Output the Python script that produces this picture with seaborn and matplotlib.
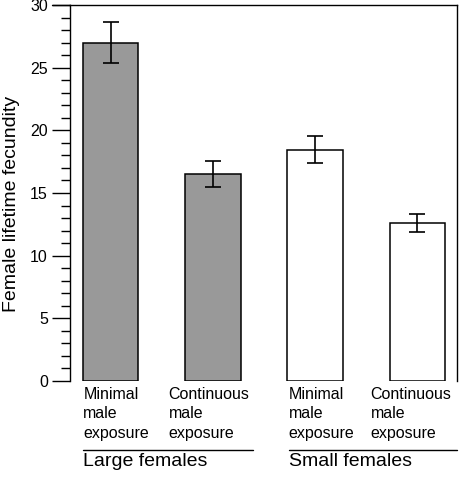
import numpy as np
import pandas as pd
import matplotlib
matplotlib.use("Agg")
import matplotlib.pyplot as plt
import matplotlib.transforms as mtransforms
from matplotlib.ticker import MultipleLocator
import seaborn as sns

# data
groups = ["Large females", "Large females", "Small females", "Small females"]
exposure = ["Minimal\nmale\nexposure", "Continuous\nmale\nexposure",
            "Minimal\nmale\nexposure", "Continuous\nmale\nexposure"]
fecundity = [27.0, 16.5, 18.45, 12.6]
sem = [1.65, 1.05, 1.07, 0.72]
bar_colors = ["#999999", "#999999", "white", "white"]

df = pd.DataFrame({"group": groups, "exposure": exposure, "fecundity": fecundity})
df["key"] = [g + " / " + e for g, e in zip(groups, exposure)]

sns.set_style("white")
plt.rcParams["font.family"] = ["Liberation Sans", "DejaVu Sans"]
plt.rcParams["text.color"] = "black"
plt.rcParams["axes.labelcolor"] = "black"
plt.rcParams["ytick.color"] = "black"

fig = plt.figure(figsize=(4.62, 4.79), dpi=100)
ax = fig.add_axes([70 / 462, 98 / 479, 387 / 462, 376 / 479])

sns.barplot(data=df, x="key", y="fecundity", hue="key", palette=bar_colors,
            legend=False, width=0.54, edgecolor="black", linewidth=1.1,
            saturation=1, ax=ax)
ax.errorbar(np.arange(len(fecundity)), fecundity, yerr=sem, fmt="none",
            ecolor="black", elinewidth=1.2, capsize=6, capthick=1.2)

ax.set_xlim(-0.4, 3.39)
ax.set_ylim(0, 30)
ax.yaxis.set_major_locator(MultipleLocator(5))
ax.yaxis.set_minor_locator(MultipleLocator(1))
ax.tick_params(axis="y", which="major", length=13, width=1.0, direction="out",
               labelsize=11.5, pad=3, left=True)
ax.tick_params(axis="y", which="minor", length=6.5, width=1.0, direction="out", left=True)
ax.tick_params(axis="x", bottom=False, labelbottom=False)
ax.set_xlabel("")
ax.set_ylabel("Female lifetime fecundity", fontsize=14, labelpad=6)
ax.yaxis.set_label_coords(-0.13, 0.47)
for side in ["left", "top", "right"]:
    ax.spines[side].set_visible(True)
    ax.spines[side].set_color("black")
    ax.spines[side].set_linewidth(1.0)
ax.spines["bottom"].set_visible(False)

# top border runs out over the 30 tick like the original
trans_xfig = mtransforms.blended_transform_factory(fig.transFigure, ax.transAxes)
ax.plot([52 / 462, 70 / 462], [1, 1], transform=trans_xfig, color="black",
        lw=1.0, clip_on=False)

# category labels under bars
label_shift = [-0.27, -0.436, -0.26, -0.456]
trans = mtransforms.blended_transform_factory(ax.transData, fig.transFigure)
for i, (txt, dx) in enumerate(zip(exposure, label_shift)):
    ax.text(i + dx, 1 - 387 / 479, txt, transform=trans, ha="left", va="top",
            fontsize=11.5, linespacing=1.36)

# group lines and labels
group_names = ["Large females", "Small females"]
group_line = [(-0.27, 1.397), (1.74, 3.39)]
for name, (x0, x1) in zip(group_names, group_line):
    ax.plot([x0, x1], [1 - 450 / 479] * 2, transform=trans, color="black",
            lw=1.0, clip_on=False)
    ax.text(x0, 1 - 453 / 479, name, transform=trans, ha="left", va="top",
            fontsize=14)

fig.savefig("out.png", dpi=100)
